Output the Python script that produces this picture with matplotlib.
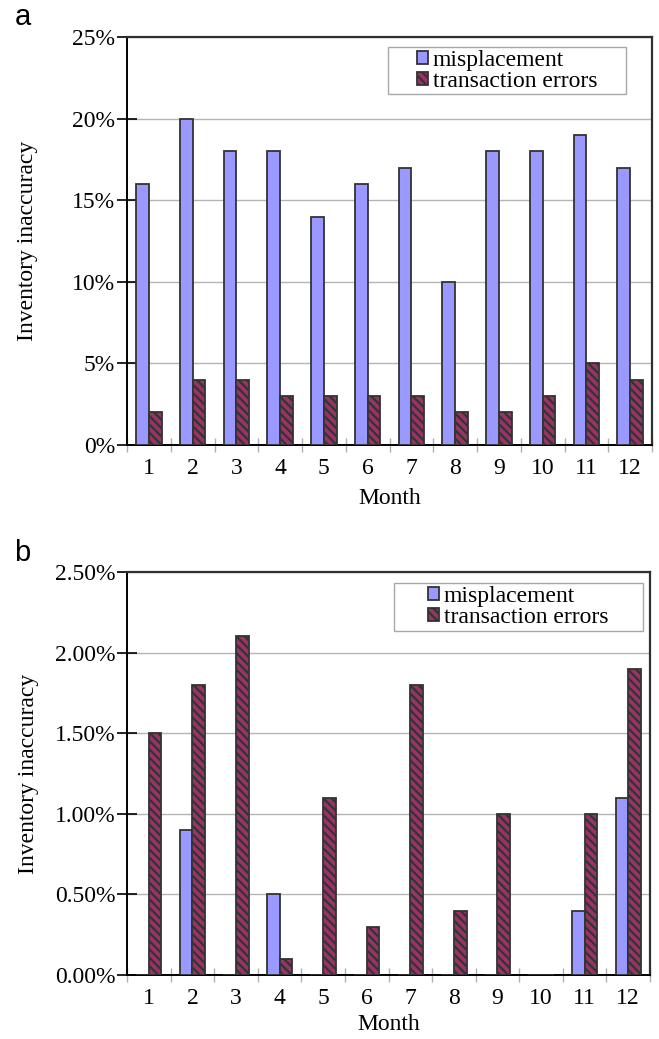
"""Inventory inaccuracy by month: misplacement vs transaction errors (two panels)."""

import numpy as np
import matplotlib.pyplot as plt
from matplotlib.patches import Rectangle
from matplotlib.ticker import FixedLocator, FuncFormatter

MONTHS = [1, 2, 3, 4, 5, 6, 7, 8, 9, 10, 11, 12]
SERIES = ["misplacement", "transaction errors"]

# panel a, percent
A_MISPLACEMENT = [16, 20, 18, 18, 14, 16, 17, 10, 18, 18, 19, 17]
A_TRANSACTION = [2, 4, 4, 3, 3, 3, 3, 2, 2, 3, 5, 4]
A_YTICKS = [0, 5, 10, 15, 20, 25]

# panel b, percent
B_MISPLACEMENT = [0, 0.9, 0, 0.5, 0, 0, 0, 0, 0, 0, 0.4, 1.1]
B_TRANSACTION = [1.5, 1.8, 2.1, 0.1, 1.1, 0.3, 1.8, 0.4, 1.0, 0, 1.0, 1.9]
B_YTICKS = [0, 0.5, 1.0, 1.5, 2.0, 2.5]

BLUE = "#9999ff"
PLUM = "#993366"
EDGE = "#333333"
FS = 17

plt.rcParams["font.family"] = ["Liberation Serif", "DejaVu Serif"]
plt.rcParams["hatch.linewidth"] = 1.6
plt.rcParams["hatch.color"] = "black"


def draw_panel(ax, misp, trans, yticks, fmt, box, xlabelpad):
    x = np.array(MONTHS)
    w = 0.29
    ax.bar(x - w / 2, misp, width=w, color=BLUE, edgecolor=EDGE, linewidth=1.3,
           label=SERIES[0], zorder=3)
    ax.bar(x + w / 2, trans, width=w, color=PLUM, edgecolor=EDGE, linewidth=1.3,
           hatch="\\\\\\\\", label=SERIES[1], zorder=3)

    ax.set_xlim(0.5, 12.5)
    ax.set_ylim(yticks[0], yticks[-1])
    ax.set_yticks(yticks)
    ax.yaxis.set_major_formatter(FuncFormatter(fmt))
    ax.yaxis.grid(True, color="#b4b4b4", linewidth=1.0, zorder=0)
    ax.set_axisbelow(True)

    ax.set_xticks(x)
    ax.set_xticklabels([str(m) for m in MONTHS])
    ax.xaxis.set_minor_locator(FixedLocator(np.arange(0.5, 13, 1.0)))
    ax.tick_params(axis="x", which="major", length=0, pad=9, labelsize=FS)
    ax.tick_params(axis="x", which="minor", direction="inout", length=10,
                   color="#b0b0b0", width=1.0)
    ax.tick_params(axis="y", which="major", direction="inout", length=15,
                   width=1.2, color="black", labelsize=FS, pad=1)

    for side in ["left", "bottom"]:
        ax.spines[side].set_color("black")
        ax.spines[side].set_linewidth(1.4)
    for side in ["top", "right"]:
        ax.spines[side].set_color("#303030")
        ax.spines[side].set_linewidth(1.6)

    ax.set_xlabel("Month", fontsize=FS, labelpad=xlabelpad)
    ax.set_ylabel("Inventory inaccuracy", fontsize=FS)
    ax.yaxis.set_label_coords(-0.169, 0.5)

    # legend box, entries centred inside it
    x0, y0, x1, y1 = box
    ax.add_patch(Rectangle((x0, y0), x1 - x0, y1 - y0, transform=ax.transAxes,
                           facecolor="white", edgecolor="#a8a8a8", linewidth=1.0,
                           zorder=5))
    leg = ax.legend(loc="center", bbox_to_anchor=((x0 + x1) / 2, (y0 + y1) / 2),
                    fontsize=FS, frameon=False, handlelength=0.45,
                    handleheight=0.45, handletextpad=0.2, labelspacing=0.0,
                    borderpad=0, borderaxespad=0)
    leg.set_zorder(6)


fig = plt.figure(figsize=(6.59, 10.39), dpi=100)
fig.patch.set_facecolor("white")

ax_a = fig.add_axes([127 / 659, 1 - 445 / 1039, 525 / 659, 408 / 1039])
ax_b = fig.add_axes([127 / 659, 1 - 975 / 1039, 523 / 659, 403 / 1039])

draw_panel(ax_a, A_MISPLACEMENT, A_TRANSACTION, A_YTICKS,
           lambda v, p: f"{v:.0f}%", (0.498, 0.860, 0.951, 0.975), 7)
draw_panel(ax_b, B_MISPLACEMENT, B_TRANSACTION, B_YTICKS,
           lambda v, p: f"{v:.2f}%", (0.510, 0.854, 0.986, 0.973), 4)

fig.text(0.022, 1 - 25 / 1039, "a", fontsize=21, family="Liberation Sans", va="baseline")
fig.text(0.022, 1 - 561 / 1039, "b", fontsize=21, family="Liberation Sans", va="baseline")

fig.savefig("out.png", dpi=100, facecolor="white")
